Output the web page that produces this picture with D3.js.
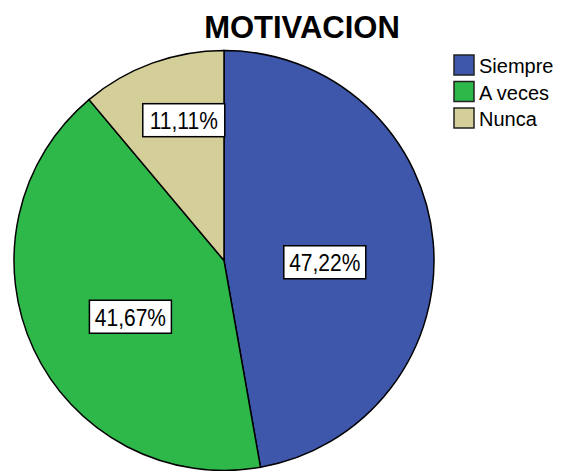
<!DOCTYPE html>
<html>
<head>
<meta charset="utf-8">
<script src="https://cdn.jsdelivr.net/npm/d3@7"></script>
<style>
  body { margin: 0; background: #fff; }
  text { font-family: "Liberation Sans", Arial, sans-serif; }
</style>
</head>
<body>
<div id="chart"></div>
<script>
// data
var categories = ["Siempre", "A veces", "Nunca"];
var percents = [47.22, 41.67, 11.11];
var colors = ["#3e57ab", "#2fb84a", "#d4ce98"];

// where SPSS dropped each label: fraction of radius, angle nudge (deg)
var labelLayout = [[0.48, 6], [0.52, -6], [0.695, 4]];

var width = 561, height = 471;
var cx = 224, cy = 260.5, radius = 210;

var svg = d3.select("#chart").append("svg")
  .attr("width", width)
  .attr("height", height);

svg.append("text")
  .attr("x", 302)
  .attr("y", 38)
  .attr("text-anchor", "middle")
  .style("font-size", "31px")
  .style("font-weight", "bold")
  .text("MOTIVACION");

var pie = d3.pie().sort(null).value(function(d) { return d; });
var arc = d3.arc().innerRadius(0).outerRadius(radius);
var arcs = pie(percents);

var g = svg.append("g").attr("transform", "translate(" + cx + "," + cy + ")");

g.selectAll("path")
  .data(arcs)
  .enter()
  .append("path")
  .attr("d", arc)
  .attr("fill", function(d, i) { return colors[i]; })
  .attr("stroke", "#000")
  .attr("stroke-width", 1.5);

var fmt = function(v) { return d3.format(".2f")(v).replace(".", ",") + "%"; };

var labels = g.selectAll("g.lbl")
  .data(arcs)
  .enter()
  .append("g")
  .attr("class", "lbl")
  .attr("transform", function(d, i) {
    var a = (d.startAngle + d.endAngle) / 2 + labelLayout[i][1] * Math.PI / 180;
    var r = radius * labelLayout[i][0];
    return "translate(" + (r * Math.sin(a)) + "," + (-r * Math.cos(a)) + ")";
  });

labels.append("rect")
  .attr("x", -41)
  .attr("y", -16.5)
  .attr("width", 82)
  .attr("height", 33)
  .attr("fill", "#fff")
  .attr("stroke", "#000")
  .attr("stroke-width", 1.5);

labels.append("text")
  .attr("text-anchor", "middle")
  .attr("y", 8)
  .attr("transform", "scale(1,1.12)")
  .style("font-size", "21px")
  .text(function(d) { return fmt(d.data); });

var legend = svg.append("g").attr("transform", "translate(454,55)");

var rows = legend.selectAll("g")
  .data(categories)
  .enter()
  .append("g")
  .attr("transform", function(d, i) { return "translate(0," + (i * 26.5) + ")"; });

rows.append("rect")
  .attr("width", 20)
  .attr("height", 20)
  .attr("fill", function(d, i) { return colors[i]; })
  .attr("stroke", "#222")
  .attr("stroke-width", 1.5);

rows.append("text")
  .attr("x", 25)
  .attr("y", 18)
  .style("font-size", "20px")
  .text(function(d) { return d; });
</script>
</body>
</html>
